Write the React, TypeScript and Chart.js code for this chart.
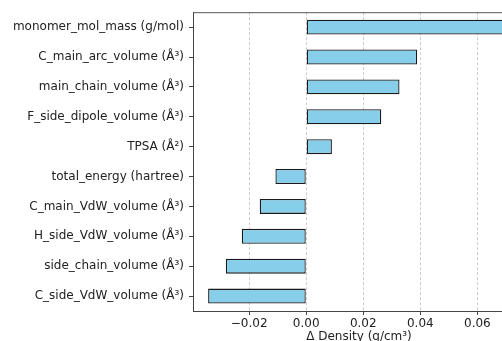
import React, { useEffect, useRef } from "react";
import { Chart, registerables } from "chart.js";

Chart.register(...registerables);

const categories = [
  "monomer_mol_mass (g/mol)",
  "C_main_arc_volume (Å³)",
  "main_chain_volume (Å³)",
  "F_side_dipole_volume (Å³)",
  "TPSA (Å²)",
  "total_energy (hartree)",
  "C_main_VdW_volume (Å³)",
  "H_side_VdW_volume (Å³)",
  "side_chain_volume (Å³)",
  "C_side_VdW_volume (Å³)",
];
const values = [0.0714, 0.0389, 0.0327, 0.0263, 0.009, -0.0108, -0.0163, -0.0226, -0.0282, -0.0344];
const xTicks = [-0.02, 0, 0.02, 0.04, 0.06];
const xMin = -0.0397;
const xMax = 0.0767;

const FONT = "'DejaVu Sans', sans-serif";

const topSpine = {
  id: "topSpine",
  afterDatasetsDraw(chart: any) {
    const { ctx, chartArea } = chart;
    ctx.save();
    ctx.strokeStyle = "#555";
    ctx.lineWidth = 1;
    ctx.beginPath();
    ctx.moveTo(chartArea.left, chartArea.top + 0.5);
    ctx.lineTo(chartArea.right, chartArea.top + 0.5);
    ctx.stroke();
    ctx.restore();
  },
};

export default function App() {
  const ref = useRef<HTMLCanvasElement | null>(null);
  useEffect(() => {
    if (!ref.current) return;
    const chart = new Chart(ref.current, {
      type: "bar",
      data: {
        labels: categories,
        datasets: [
          {
            data: values,
            backgroundColor: "#87CEEB",
            borderColor: "#1a1a1a",
            borderWidth: 1.3,
            borderSkipped: false,
            barPercentage: 0.5,
            categoryPercentage: 1.0,
          },
        ],
      },
      options: {
        indexAxis: "y",
        responsive: false,
        animation: false,
        devicePixelRatio: 1,
        layout: { padding: { top: 10, right: 0, bottom: 0, left: 0 } },
        plugins: { legend: { display: false }, tooltip: { enabled: false } },
        scales: {
          x: {
            type: "linear",
            min: xMin,
            max: xMax,
            afterBuildTicks: (scale: any) => {
              scale.ticks = xTicks.map((v) => ({ value: v }));
            },
            afterFit: (scale: any) => {
              scale.height = 33;
            },
            ticks: {
              font: { family: FONT, size: 12 },
              color: "#222",
              padding: 2,
              maxRotation: 0,
              callback: (v: any) => {
                const n = Number(v);
                return n < 0 ? "−" + Math.abs(n).toFixed(2) : n.toFixed(2);
              },
            },
            grid: {
              color: "#cccccc",
              lineWidth: 1,
              tickColor: "#444",
              tickLength: 4,
              tickBorderDash: [],
            },
            border: { color: "#444", width: 1, dash: [3, 2] },
            title: {
              display: true,
              text: "Δ Density (g/cm³)",
              font: { family: FONT, size: 12 },
              color: "#222",
              padding: 0,
            },
          },
          y: {
            afterFit: (scale: any) => {
              scale.width = 193;
            },
            ticks: {
              font: { family: FONT, size: 12 },
              color: "#222",
              padding: 5,
            },
            grid: {
              offset: false,
              drawOnChartArea: false,
              drawTicks: true,
              tickLength: 4,
              tickColor: "#444",
            },
            border: { color: "#444", width: 1 },
          },
        },
      },
      plugins: [topSpine],
    });
    return () => chart.destroy();
  }, []);
  return (
    <div
      style={{
        position: "fixed",
        left: 0,
        top: 0,
        width: 502,
        height: 341,
        overflow: "hidden",
        background: "#fff",
      }}
    >
      <canvas ref={ref} width={525} height={344} style={{ display: "block" }} />
    </div>
  );
}
